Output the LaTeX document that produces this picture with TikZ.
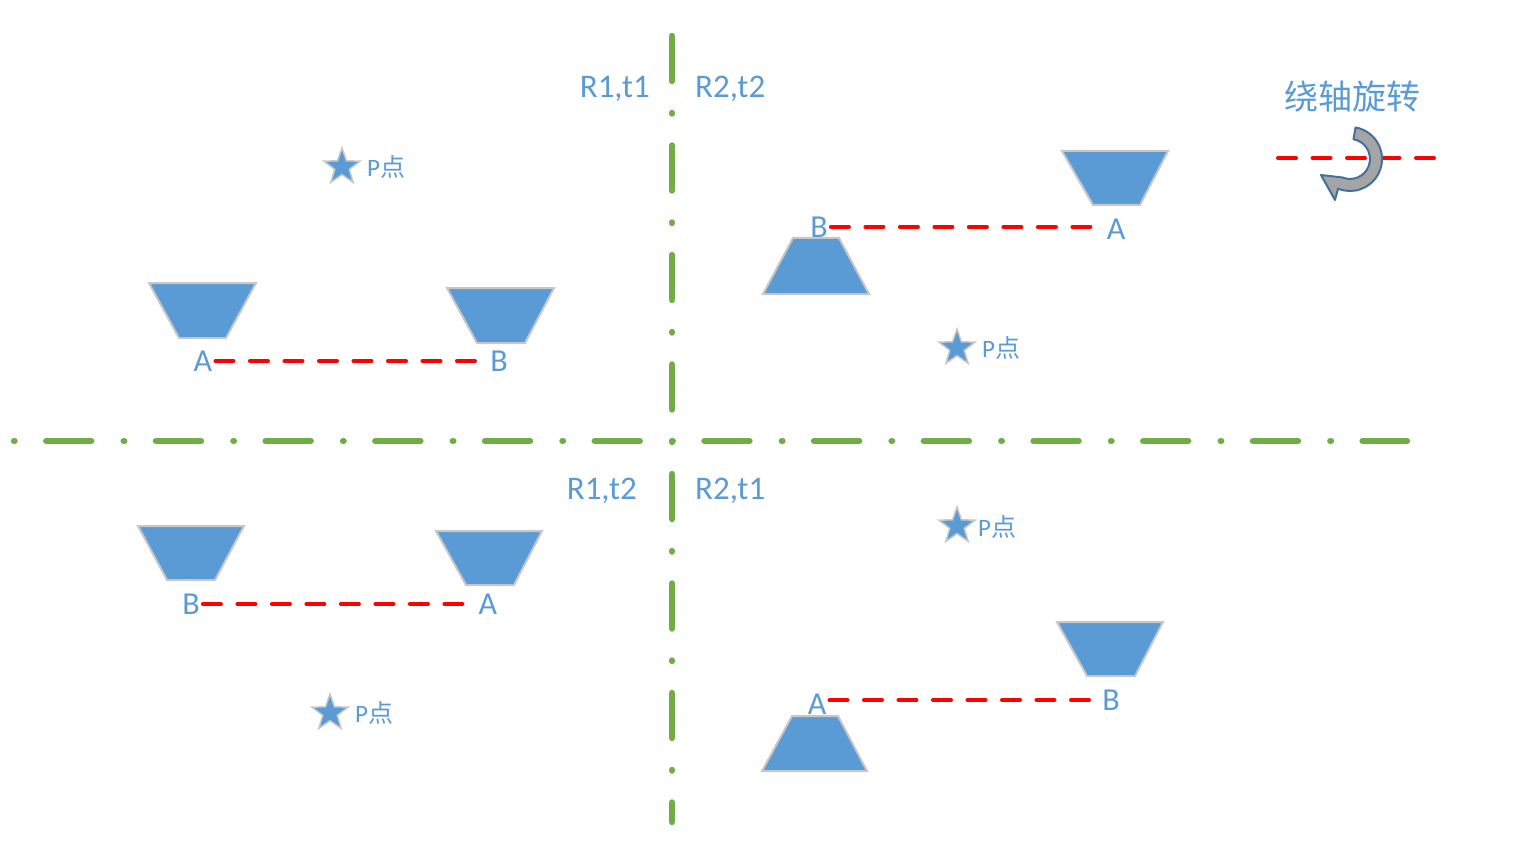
\documentclass[tikz,border=0pt]{standalone}
\usepackage{fontspec}
\setmainfont{Carlito}
\newfontfamily\cjk{Noto Sans CJK SC}
\usetikzlibrary{shapes.geometric}

\begin{document}
\begin{tikzpicture}[x=1pt,y=-1pt,line width=0.4pt]
\definecolor{figblue}{RGB}{91,155,213}
\definecolor{figgreen}{RGB}{112,173,71}
\definecolor{figred}{RGB}{255,0,0}
\definecolor{figgrey}{RGB}{165,165,165}
\definecolor{figedge}{RGB}{65,113,156}
\providecommand{\flabel}{\fontsize{32}{38}\selectfont}
\providecommand{\fquad}{\fontsize{33}{40}\selectfont}
\providecommand{\fsmall}{\fontsize{25}{30}\selectfont}
\tikzset{
  cup/.style={fill=figblue,draw=black!22,line width=2pt,line join=miter},
  pstar/.style={star,star points=5,star point ratio=2.5,minimum size=38pt,inner sep=0pt,fill=figblue,draw=black!22,line width=1.5pt},
  ptext/.style={anchor=west,inner sep=0pt,font=\fsmall,text=figblue},
  endpt/.style={inner sep=3pt,font=\flabel,text=figblue},
  quad/.style={inner sep=0pt,font=\fquad,text=figblue},
  abline/.style={figred,line width=4pt,line cap=round,dash pattern=on 18pt off 16.5pt},
  cutline/.style={figgreen,line width=6.5pt,line cap=round},
  turn/.style={fill=figgrey,draw=figedge,line width=2pt,line join=round}
}
\useasboundingbox (0,0) rectangle (1537,845);
\coordinate (h0) at (14,441);
\coordinate (h1) at (1407,441);
\draw[cutline,dash pattern=on 0.5pt off 31.75pt on 45pt off 32.45pt] (h0) -- (h1);
\coordinate (v0) at (672,36);
\coordinate (v1) at (672,822);
\draw[cutline,dash pattern=on 45pt off 32pt on 0.5pt off 32pt] (v0) -- (v1);
\node[quad,anchor=base east] (r11) at (650,98) {R1,t1};
\node[quad,anchor=base west] (r22) at (695,98) {R2,t2};
\node[quad,anchor=base east] (r12) at (637,499) {R1,t2};
\node[quad,anchor=base west] (r21) at (695,499) {R2,t1};
\draw[cup] (149,283) -- (256,283) -- (226,338) -- (179,338) -- cycle;
\draw[cup] (447,288) -- (554,288) -- (525,343) -- (477,343) -- cycle;
\node[endpt] (a1) at (203,361) {A};
\node[endpt] (b1) at (499,361) {B};
\draw[abline] (a1.east) -- (a1.east -| b1.west);
\node[pstar] (s1) at (342,167) {};
\node[ptext] (p1) at (367,167) {P\cjk 点};
\draw[cup] (1062,151) -- (1168,151) -- (1140,205) -- (1093,205) -- cycle;
\draw[cup] (793,238) -- (839,238) -- (869,294) -- (763,294) -- cycle;
\node[endpt] (b2) at (819,227) {B};
\node[endpt] (a2) at (1116,229) {A};
\draw[abline] (b2.east) -- (b2.east -| a2.west);
\node[pstar] (s2) at (957,348) {};
\node[ptext] (p2) at (982,348) {P\cjk 点};
\draw[cup] (138,526) -- (244,526) -- (215,580) -- (167,580) -- cycle;
\draw[cup] (436,531) -- (542,531) -- (514,585) -- (466,585) -- cycle;
\node[endpt] (b3) at (191,604) {B};
\node[endpt] (a3) at (488,604) {A};
\draw[abline] (b3.east) -- (b3.east -| a3.west);
\node[pstar] (s3) at (330,713) {};
\node[ptext] (p3) at (355,713) {P\cjk 点};
\draw[cup] (1057,622) -- (1163,622) -- (1135,676) -- (1087,676) -- cycle;
\draw[cup] (792,716) -- (838,716) -- (867,771) -- (762,771) -- cycle;
\node[endpt] (a4) at (817,704) {A};
\node[endpt] (b4) at (1111,700) {B};
\draw[abline] (a4.east |- b4.west) -- (b4.west);
\node[pstar] (s4) at (957,526) {};
\node[ptext] (p4) at (978,527) {P\cjk 点};
\node[font=\fontsize{34}{40}\selectfont\cjk,text=figblue,inner sep=0pt] (spin) at (1352,97) {绕轴旋转};
\coordinate (ax0) at (1278,158);
\coordinate (ax1) at (1438,158);
\draw[abline] (ax0) -- (ax1);
\draw[turn] (1350,159) ++(-80:32) arc[start angle=-80,end angle=112,radius=32] -- (1335,200) -- (1321,175) -- (1342.5,177.5) arc[start angle=112,end angle=-80,radius=20] -- cycle;
\end{tikzpicture}
\end{document}
